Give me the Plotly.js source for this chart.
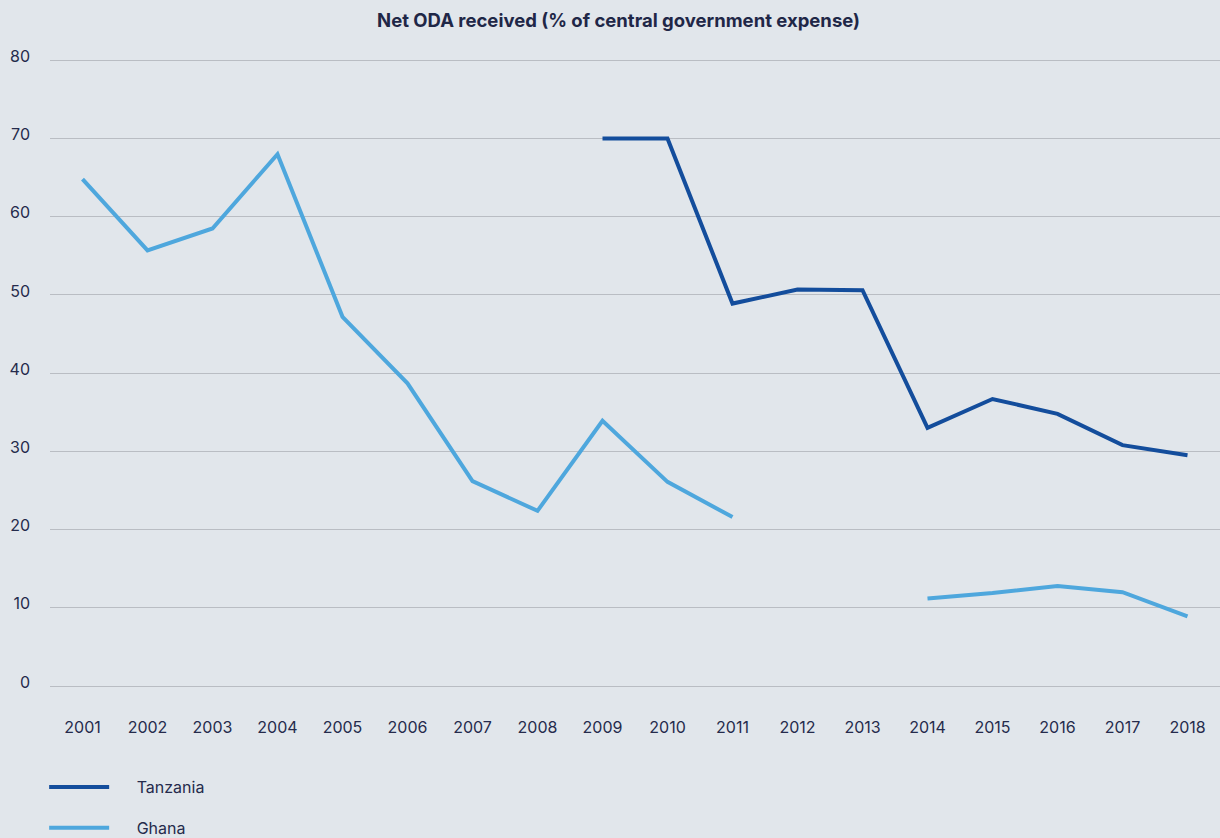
<!DOCTYPE html>
<html>
<head>
<meta charset="utf-8">
<script src="https://cdn.plot.ly/plotly-3.0.1.min.js"></script>
<style>
  html, body { margin: 0; padding: 0; background: #e1e6eb; }
  #chart { width: 1220px; height: 838px; }
</style>
</head>
<body>
<div id="chart"></div>
<script>
const years = [2001, 2002, 2003, 2004, 2005, 2006, 2007, 2008, 2009, 2010, 2011, 2012, 2013, 2014, 2015, 2016, 2017, 2018];
const tanzania = [null, null, null, null, null, null, null, null, 70.0, 70.0, 48.9, 50.7, 50.6, 33.0, 36.7, 34.8, 30.8, 29.5];
const ghana = [64.8, 55.7, 58.5, 68.0, 47.2, 38.7, 26.2, 22.4, 33.9, 26.1, 21.6, null, null, 11.2, 11.9, 12.8, 12.0, 8.9];
const yTicks = [0, 10, 20, 30, 40, 50, 60, 70, 80];
const seriesNames = ['Tanzania', 'Ghana'];

const textColor = '#252b4c';
const fontFam = 'Inter, "Open Sans", sans-serif';
const pad = '\u00a0\u00a0\u00a0\u00a0\u00a0';

const traces = [
  {
    x: years, y: tanzania, name: pad + seriesNames[0], type: 'scatter', mode: 'lines',
    line: { color: '#134d9c', width: 4, shape: 'linear' },
    connectgaps: false, legendgroup: 'a', hoverinfo: 'skip'
  },
  {
    x: years, y: ghana, name: pad + seriesNames[1], type: 'scatter', mode: 'lines',
    line: { color: '#4ea7dd', width: 4, shape: 'linear' },
    connectgaps: false, legendgroup: 'b', hoverinfo: 'skip'
  }
];

const layout = {
  width: 1220, height: 838,
  paper_bgcolor: '#e1e6eb',
  plot_bgcolor: '#e1e6eb',
  margin: { l: 50, r: 0, t: 58, b: 152, autoexpand: false },
  font: { family: fontFam, color: textColor, size: 16 },
  title: {
    text: '<b>Net ODA received (% of central government expense)</b>',
    font: { family: fontFam, size: 18.5, color: '#1f2747' },
    x: 0.507, xanchor: 'center', y: 0.975, yanchor: 'middle'
  },
  xaxis: {
    range: [2000.5, 2018.5],
    tickvals: years,
    ticktext: years.map(String),
    showgrid: false, zeroline: false, showline: false,
    ticks: '', ticklabelstandoff: 30,
    tickfont: { size: 16, color: textColor, family: fontFam }
  },
  yaxis: {
    range: [0, 80.3],
    tickvals: yTicks,
    showgrid: true, gridcolor: '#b9bdc3', gridwidth: 1,
    zeroline: true, zerolinecolor: '#b9bdc3', zerolinewidth: 1,
    showline: false, ticks: '',
    ticklabelstandoff: 19, ticklabelshift: -4,
    tickfont: { size: 16, color: textColor, family: fontFam }
  },
  showlegend: true,
  legend: {
    orientation: 'v',
    x: -0.005, xanchor: 'left',
    y: -0.134, yanchor: 'top',
    bgcolor: 'rgba(0,0,0,0)',
    itemwidth: 60,
    tracegroupgap: 17,
    font: { size: 16, color: textColor, family: fontFam }
  }
};

Plotly.newPlot('chart', traces, layout, { displayModeBar: false, staticPlot: true });
</script>
</body>
</html>
